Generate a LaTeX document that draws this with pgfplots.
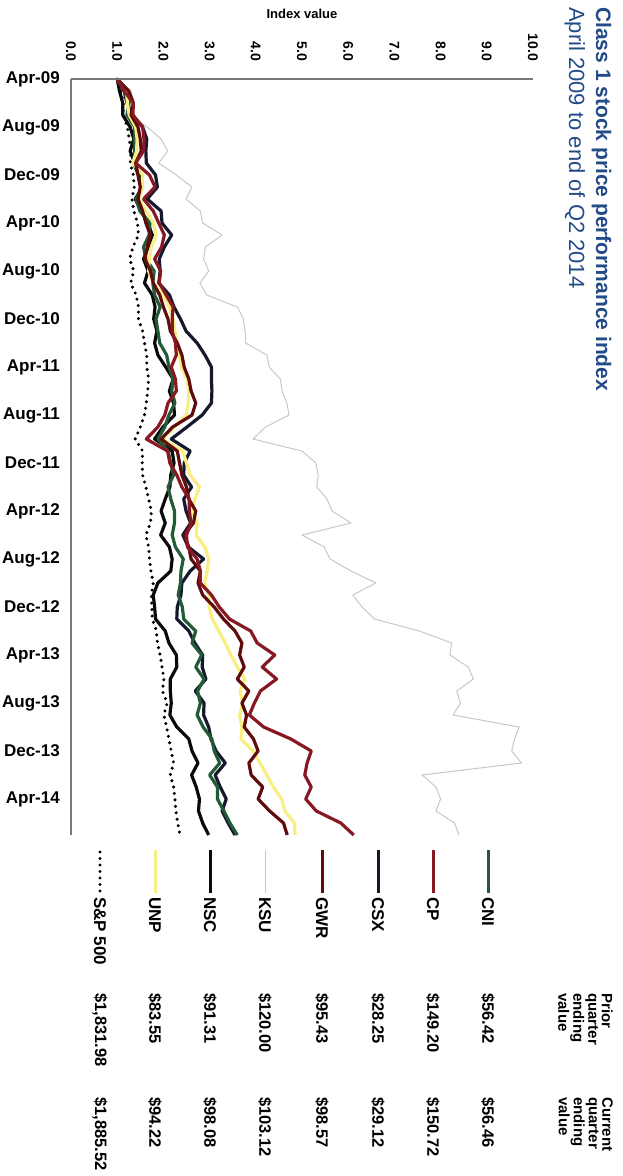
\documentclass[border=0pt]{standalone}
\usepackage{pgfplots}
\pgfplotsset{compat=1.18}
\usepackage{pgfplotstable}
\usepackage{fontspec}
\setmainfont{Liberation Sans}

\definecolor{titleblue}{RGB}{35,75,135}
\definecolor{cnicol}{RGB}{35,90,55}
\definecolor{cpcol}{RGB}{135,25,35}
\definecolor{csxcol}{RGB}{20,25,45}
\definecolor{gwrcol}{RGB}{95,12,12}
\definecolor{ksucol}{RGB}{200,200,195}
\definecolor{nsccol}{RGB}{10,10,10}
\definecolor{unpcol}{RGB}{248,238,130}
\definecolor{axiscol}{RGB}{120,120,120}

% index values by month since April 2009 (1.0 = start)
\pgfplotstableread{
m  cni  cp   csx  gwr  ksu  nsc  unp  sp
0  1.00 1.00 1.00 1.00 1.00 1.00 1.00 1.00
1  1.15 1.15 1.15 1.25 1.30 1.05 1.20 1.08
2  1.26 1.35 1.21 1.35 1.36 1.12 1.22 1.13
3  1.21 1.34 1.33 1.30 1.27 1.12 1.26 1.13
4  1.38 1.55 1.55 1.45 1.65 1.28 1.40 1.22
5  1.37 1.58 1.64 1.50 1.95 1.36 1.43 1.26
6  1.38 1.57 1.62 1.52 2.09 1.28 1.42 1.30
7  1.35 1.40 1.63 1.40 1.90 1.38 1.34 1.28
8  1.46 1.70 1.83 1.45 2.28 1.50 1.55 1.35
9  1.53 1.82 1.87 1.50 2.62 1.55 1.55 1.37
10 1.41 1.57 1.65 1.45 2.49 1.39 1.47 1.32
11 1.49 1.78 1.95 1.55 2.80 1.52 1.63 1.36
12 1.71 1.90 1.97 1.62 2.85 1.66 1.78 1.44
13 1.69 2.02 2.18 1.72 3.27 1.76 1.84 1.46
14 1.57 1.96 2.02 1.65 2.91 1.67 1.74 1.34
15 1.62 1.81 1.91 1.60 2.87 1.57 1.69 1.27
16 1.80 1.94 1.93 1.72 2.98 1.67 1.68 1.36
17 1.77 1.91 1.90 1.78 2.79 1.59 1.78 1.29
18 1.81 2.06 2.13 1.92 2.94 1.76 1.99 1.41
19 1.93 2.21 2.23 2.00 3.60 1.82 2.13 1.46
20 1.84 2.19 2.37 2.10 3.73 1.79 2.21 1.46
21 1.88 2.19 2.49 2.15 3.77 1.86 2.25 1.55
22 1.92 2.26 2.73 2.30 3.78 1.81 2.30 1.59
23 2.07 2.28 2.90 2.40 4.24 1.88 2.34 1.64
24 2.12 2.17 3.04 2.45 4.29 2.05 2.39 1.64
25 2.21 2.26 3.04 2.55 4.53 2.21 2.51 1.68
26 2.18 2.28 3.05 2.60 4.57 2.13 2.55 1.66
27 2.25 2.10 3.04 2.70 4.67 2.22 2.54 1.63
28 2.12 2.03 2.84 2.62 4.72 2.24 2.49 1.59
29 2.03 1.88 2.51 2.20 4.21 1.99 2.24 1.50
30 1.88 1.63 2.17 1.95 3.94 1.81 1.98 1.39
31 2.10 2.09 2.58 2.30 5.00 2.19 2.42 1.55
32 2.16 2.14 2.45 2.35 5.30 2.23 2.50 1.54
33 2.22 2.29 2.44 2.40 5.35 2.16 2.58 1.55
34 2.10 2.40 2.61 2.50 5.32 2.14 2.78 1.62
35 2.16 2.56 2.44 2.55 5.54 2.04 2.68 1.68
36 2.24 2.56 2.49 2.70 5.65 1.95 2.61 1.74
37 2.24 2.60 2.59 2.65 6.06 2.04 2.73 1.72
38 2.19 2.50 2.42 2.45 5.00 1.94 2.71 1.62
39 2.26 2.52 2.54 2.55 5.48 2.13 2.90 1.68
40 2.43 2.73 2.87 2.60 5.61 2.19 2.98 1.70
41 2.38 2.80 2.58 2.80 6.06 2.16 2.95 1.73
42 2.37 2.80 2.40 2.75 6.60 1.88 2.89 1.78
43 2.32 3.04 2.38 2.85 6.10 1.78 2.99 1.74
44 2.41 3.21 2.30 3.10 6.30 1.81 2.99 1.75
45 2.44 3.43 2.29 3.30 6.57 1.83 3.06 1.76
46 2.70 3.89 2.55 3.55 7.54 2.04 3.20 1.85
47 2.62 4.03 2.68 3.70 8.24 2.12 3.34 1.87
48 2.83 4.41 2.85 3.65 8.20 2.28 3.46 1.93
49 2.70 4.14 2.84 3.75 8.60 2.29 3.60 1.97
50 2.88 4.45 2.92 3.60 8.71 2.15 3.76 2.01
51 2.74 4.10 2.69 3.85 8.35 2.15 3.66 1.98
52 2.80 3.97 2.88 3.70 8.43 2.17 3.72 2.08
53 2.73 3.86 2.87 3.80 8.27 2.14 3.65 2.01
54 2.86 4.17 2.98 3.75 9.70 2.29 3.70 2.07
55 3.05 4.76 3.03 3.95 9.60 2.55 3.68 2.12
56 3.10 5.20 3.14 4.05 9.54 2.62 3.94 2.17
57 3.22 5.11 3.34 3.85 9.75 2.75 4.09 2.22
58 3.00 5.06 3.12 3.90 7.60 2.61 4.24 2.15
59 3.17 5.20 3.23 4.15 7.90 2.71 4.38 2.22
60 3.17 5.08 3.36 4.05 8.00 2.78 4.56 2.25
61 3.31 5.31 3.27 4.30 7.90 2.76 4.63 2.27
62 3.44 5.84 3.40 4.60 8.30 2.85 4.84 2.31
63 3.60 6.12 3.55 4.68 8.40 2.98 4.85 2.36
}\perf

\begin{document}
\begin{tikzpicture}
\path[use as bounding box] (0pt,0pt) rectangle (622pt,-1176pt);
\begin{axis}[
  at={(71pt,-79pt)}, anchor=north west,
  scale only axis, width=462pt, height=756pt,
  xmin=0, xmax=10, ymin=0, ymax=63, y dir=reverse,
  axis line style={draw=none},
  major tick length=0pt,
  xtick={0,1,2,3,4,5,6,7,8,9,10},
  xticklabels={0.0,1.0,2.0,3.0,4.0,5.0,6.0,7.0,8.0,9.0,10.0},
  xticklabel pos=upper,
  xticklabel style={yshift=18pt, rotate=-90, anchor=east, inner sep=0pt,
    font=\fontsize{14}{16}\selectfont\bfseries},
  ytick={0,4,...,60},
  yticklabels={Apr-09,Aug-09,Dec-09,Apr-10,Aug-10,Dec-10,Apr-11,Aug-11,
    Dec-11,Apr-12,Aug-12,Dec-12,Apr-13,Aug-13,Dec-13,Apr-14},
  yticklabel style={anchor=east, inner sep=0pt, xshift=-11pt,
    font=\fontsize{17}{19}\selectfont\bfseries},
  clip=false,
  every axis plot/.append style={line join=round, mark=none},
]
\addplot[ksucol, line width=1pt] table[x=ksu, y=m] {\perf};
\addplot[black, line width=3.4pt, line cap=round, dash pattern=on 0pt off 6.5pt] table[x=sp, y=m] {\perf};
\addplot[nsccol, line width=3.2pt] table[x=nsc, y=m] {\perf};
\addplot[csxcol, line width=3.2pt] table[x=csx, y=m] {\perf};
\addplot[cnicol, line width=3.2pt] table[x=cni, y=m] {\perf};
\addplot[unpcol, line width=3.2pt] table[x=unp, y=m] {\perf};
\addplot[gwrcol, line width=3.2pt] table[x=gwr, y=m] {\perf};
\addplot[cpcol, line width=3.2pt] table[x=cp, y=m] {\perf};
\end{axis}

\begin{scope}[x=1pt, y=-1pt]
% axis lines: value axis along the top, time axis down the left
\draw[axiscol, line width=1.1pt] (71,79) -- (533,79);
\draw[axiscol, line width=1.6pt] (71,79) -- (71,835);

% titles
\node[rotate=-90, anchor=base west, inner sep=0pt, text=titleblue,
  font=\fontsize{21}{24}\selectfont\bfseries] at (596,7) {Class 1 stock price performance index};
\node[rotate=-90, anchor=base west, inner sep=0pt, text=titleblue,
  font=\fontsize{22}{24}\selectfont] at (569,7) {April 2009 to end of Q2 2014};
\node[font=\fontsize{13}{15}\selectfont\bfseries] at (302,14) {Index value};

% legend table
\tikzset{lgtext/.style={rotate=-90, anchor=west, inner sep=0pt,
  font=\fontsize{17}{19}\selectfont\bfseries},
  valtext/.style={rotate=-90, anchor=west, inner sep=0pt,
  font=\fontsize{16.5}{19}\selectfont\bfseries},
  hdtext/.style={rotate=-90, anchor=north west, inner sep=0pt, align=left,
  font=\fontsize{15}{13.5}\selectfont\bfseries}}
\node[hdtext] at (613,993) {Prior\\quarter\\ending\\value};
\node[hdtext] at (613,1097) {Current\\quarter\\ending\\value};

\draw[cnicol, line width=3pt] (488,850) -- (488,893);
\node[lgtext] at (488,897) {CNI};
\node[valtext] at (488,993) {\$56.42};
\node[valtext] at (488,1097) {\$56.46};

\draw[cpcol, line width=3pt] (433,850) -- (433,893);
\node[lgtext] at (433,897) {CP};
\node[valtext] at (433,993) {\$149.20};
\node[valtext] at (433,1097) {\$150.72};

\draw[csxcol, line width=3pt] (378,850) -- (378,893);
\node[lgtext] at (378,897) {CSX};
\node[valtext] at (378,993) {\$28.25};
\node[valtext] at (378,1097) {\$29.12};

\draw[gwrcol, line width=3pt] (322,850) -- (322,893);
\node[lgtext] at (322,897) {GWR};
\node[valtext] at (322,993) {\$95.43};
\node[valtext] at (322,1097) {\$98.57};

\draw[ksucol, line width=1pt] (265,850) -- (265,893);
\node[lgtext] at (265,897) {KSU};
\node[valtext] at (265,993) {\$120.00};
\node[valtext] at (265,1097) {\$103.12};

\draw[nsccol, line width=3pt] (210,850) -- (210,893);
\node[lgtext] at (210,897) {NSC};
\node[valtext] at (210,993) {\$91.31};
\node[valtext] at (210,1097) {\$98.08};

\draw[unpcol, line width=3pt] (155,850) -- (155,893);
\node[lgtext] at (155,897) {UNP};
\node[valtext] at (155,993) {\$83.55};
\node[valtext] at (155,1097) {\$94.22};

\draw[black, line width=3.4pt, line cap=round, dash pattern=on 0pt off 6.5pt] (100,852) -- (100,892);
\node[lgtext] at (100,897) {S\&P 500};
\node[valtext] at (100,993) {\$1,831.98};
\node[valtext] at (100,1097) {\$1,885.52};
\end{scope}
\end{tikzpicture}
\end{document}
